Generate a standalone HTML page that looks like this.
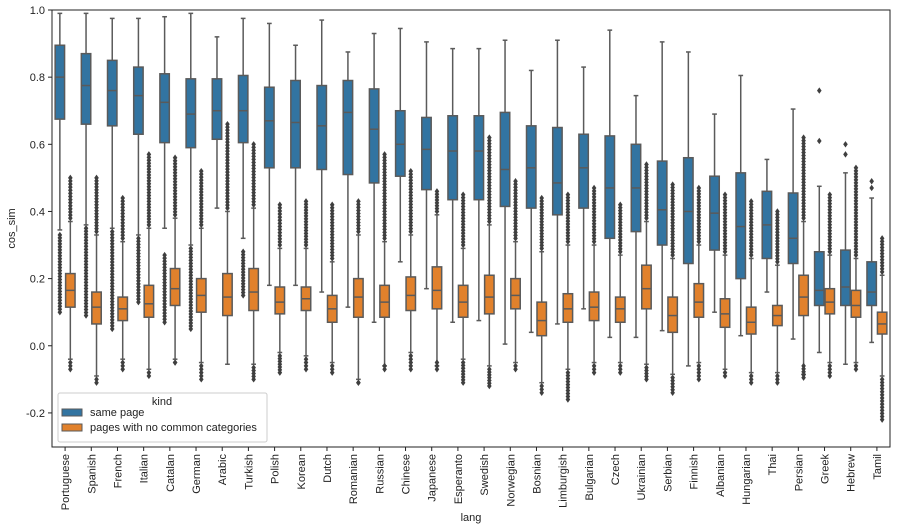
<!DOCTYPE html>
<html><head><meta charset="utf-8"><style>
body{margin:0;background:#fff;}
svg{display:block;font-family:"Liberation Sans",sans-serif;}
</style></head><body>
<svg id="chart" width="897" height="530"></svg>
<script>
const langs=["Portuguese","Spanish","French","Italian","Catalan","German","Arabic","Turkish","Polish","Korean","Dutch","Romanian","Russian","Chinese","Japanese","Esperanto","Swedish","Norwegian","Bosnian","Limburgish","Bulgarian","Czech","Ukrainian","Serbian","Finnish","Albanian","Hungarian","Thai","Persian","Greek","Hebrew","Tamil"];
const sameLo=[0.345,0.36,0.35,0.33,0.35,0.30,0.41,0.32,0.18,0.18,0.16,0.115,0.07,0.25,0.17,0.07,0.075,0.005,0.04,0.065,0.11,0.025,0.025,0.045,-0.06,0.10,0.03,0.16,0.02,-0.02,-0.055,0.01];
const sameQ1=[0.675,0.66,0.655,0.63,0.605,0.59,0.615,0.605,0.53,0.53,0.525,0.51,0.485,0.505,0.465,0.435,0.435,0.415,0.41,0.39,0.41,0.32,0.34,0.30,0.245,0.285,0.20,0.26,0.245,0.12,0.12,0.12];
const sameMed=[0.80,0.775,0.76,0.745,0.725,0.69,0.70,0.70,0.67,0.665,0.655,0.695,0.645,0.60,0.585,0.58,0.58,0.525,0.53,0.485,0.53,0.47,0.47,0.405,0.40,0.395,0.355,0.36,0.32,0.165,0.175,0.16];
const sameQ3=[0.895,0.87,0.85,0.83,0.81,0.795,0.795,0.805,0.77,0.79,0.775,0.79,0.765,0.70,0.68,0.685,0.685,0.695,0.655,0.65,0.63,0.625,0.60,0.55,0.56,0.505,0.515,0.46,0.455,0.28,0.285,0.25];
const sameHi=[0.99,0.99,0.975,0.975,0.98,0.99,0.92,0.975,0.96,0.895,0.97,0.875,0.93,0.945,0.905,0.885,0.885,0.91,0.82,0.91,0.83,0.94,0.745,0.905,0.875,0.69,0.805,0.555,0.705,0.475,0.515,0.44];
const sameFlierLow=[[0.33,0.10],[0.35,0.09],[0.34,0.05],[0.32,0.13],[0.27,0.07],[0.29,0.05],null,[0.28,0.15],null,null,null,null,null,null,null,null,null,null,null,null,null,null,null,null,null,null,null,null,null,null,null,null];
const sameFlierHigh=[null,null,null,null,null,null,null,null,null,null,null,null,null,null,null,null,null,null,null,null,null,null,null,null,null,null,null,null,null,[0.76,0.61],[0.6,0.57],[0.49,0.47]];
const noLo=[-0.04,-0.09,-0.04,-0.07,-0.04,-0.05,-0.055,-0.055,-0.02,-0.03,-0.05,-0.1,-0.06,-0.02,-0.06,-0.04,-0.06,-0.05,-0.11,-0.07,-0.05,-0.05,-0.055,-0.085,-0.05,-0.07,-0.08,-0.08,-0.085,-0.05,-0.05,-0.09];
const noQ1=[0.115,0.065,0.075,0.085,0.12,0.10,0.09,0.105,0.095,0.105,0.07,0.085,0.085,0.105,0.11,0.085,0.095,0.11,0.03,0.07,0.075,0.07,0.11,0.04,0.085,0.055,0.035,0.06,0.09,0.095,0.085,0.035];
const noMed=[0.165,0.115,0.11,0.125,0.17,0.15,0.145,0.16,0.13,0.14,0.11,0.145,0.13,0.15,0.165,0.13,0.145,0.15,0.075,0.11,0.115,0.11,0.17,0.09,0.13,0.095,0.07,0.09,0.145,0.13,0.12,0.065];
const noQ3=[0.215,0.16,0.145,0.18,0.23,0.20,0.215,0.23,0.175,0.175,0.15,0.20,0.18,0.205,0.235,0.18,0.21,0.20,0.13,0.155,0.16,0.145,0.24,0.145,0.185,0.14,0.115,0.12,0.21,0.17,0.165,0.10];
const noHi=[0.37,0.33,0.31,0.35,0.38,0.35,0.40,0.41,0.29,0.29,0.25,0.33,0.31,0.33,0.39,0.29,0.36,0.31,0.28,0.30,0.30,0.27,0.37,0.26,0.30,0.27,0.26,0.24,0.37,0.27,0.26,0.21];
const noFlierHigh=[0.50,0.50,0.44,0.57,0.56,0.52,0.66,0.60,0.42,0.43,0.42,0.43,0.57,0.52,0.46,0.45,0.62,0.49,0.44,0.45,0.47,0.42,0.54,0.48,0.47,0.45,0.43,0.40,0.62,0.45,0.53,0.32];
const noFlierLow=[-0.07,-0.11,-0.07,-0.09,-0.05,-0.10,null,-0.10,-0.08,-0.07,-0.08,-0.11,-0.06,-0.07,-0.05,-0.11,-0.12,-0.07,-0.14,-0.16,-0.08,-0.08,-0.10,-0.14,-0.10,-0.09,-0.11,-0.11,-0.06,-0.09,-0.07,-0.22];
const yTicks=[-0.2,0.0,0.2,0.4,0.6,0.8,1.0];

const L=52,T=10,R=890,B=447;
const yMin=-0.3015,yMax=1.0;
const y=v=>B-(v-yMin)/(yMax-yMin)*(B-T);
const cw=(R-L)/langs.length;
const xc=i=>L+cw*(i+0.5);
const svg=document.getElementById('chart');
const NS='http://www.w3.org/2000/svg';
function mk(tag,attrs,parent){const e=document.createElementNS(NS,tag);for(const k in attrs)e.setAttribute(k,attrs[k]);(parent||svg).appendChild(e);return e;}

const frame=mk('rect',{x:L,y:T,width:R-L,height:B-T,fill:'none',stroke:'#222','stroke-width':1});



yTicks.forEach(v=>{
  const t=mk('line',{x1:L-4,x2:L,y1:y(v),y2:y(v),stroke:'#222'});
  
  
  const tx=mk('text',{x:L-7,y:y(v)+4,'text-anchor':'end','font-size':11,fill:'#222'});
  tx.textContent=v.toFixed(1);
  
  
});

const blue='#3274a1',orange='#e1812c',edge='#3f3f3f',wh='#5a5a5a';
const slot=cw*0.8/2, bw=slot*0.9;
function diamond(cx,v,g){
  const cy=y(v);
  mk('path',{d:`M${cx} ${cy-3.2}L${cx+2.3} ${cy}L${cx} ${cy+3.2}L${cx-2.3} ${cy}Z`,fill:edge},g);
}
function fliers(cx,a,b,g){
  const hi=Math.max(a,b),lo=Math.min(a,b);
  const n=Math.max(1,Math.round((y(lo)-y(hi))/3));
  for(let k=0;k<=n;k++)diamond(cx,hi-(hi-lo)*k/n,g);
}
function box(cx,lo,q1,med,q3,hi,color,g){
  mk('line',{x1:cx,x2:cx,y1:y(hi),y2:y(q3),stroke:wh,'stroke-width':1.5},g);
  mk('line',{x1:cx,x2:cx,y1:y(q1),y2:y(lo),stroke:wh,'stroke-width':1.5},g);
  mk('line',{x1:cx-bw/4,x2:cx+bw/4,y1:y(hi),y2:y(hi),stroke:wh,'stroke-width':1.5},g);
  mk('line',{x1:cx-bw/4,x2:cx+bw/4,y1:y(lo),y2:y(lo),stroke:wh,'stroke-width':1.5},g);
  mk('rect',{x:cx-bw/2,y:y(q3),width:bw,height:y(q1)-y(q3),fill:color,stroke:wh,'stroke-width':1.5},g);
  mk('line',{x1:cx-bw/2,x2:cx+bw/2,y1:y(med),y2:y(med),stroke:wh,'stroke-width':1.5},g);
}
langs.forEach((lang,i)=>{
  const g=mk('g',{});
  
  
  const cb=xc(i)-slot/2, co=xc(i)+slot/2;
  box(cb,sameLo[i],sameQ1[i],sameMed[i],sameQ3[i],sameHi[i],blue,g);
  if(sameFlierLow[i])fliers(cb,sameFlierLow[i][0],sameFlierLow[i][1],g);
  if(sameFlierHigh[i]){diamond(cb,sameFlierHigh[i][0],g);diamond(cb,sameFlierHigh[i][1],g);}
  box(co,noLo[i],noQ1[i],noMed[i],noQ3[i],noHi[i],orange,g);
  fliers(co,noFlierHigh[i],noHi[i]+0.01,g);
  if(noFlierLow[i]!==null)fliers(co,noLo[i]-0.01,noFlierLow[i],g);
  const t=mk('line',{x1:xc(i),x2:xc(i),y1:B,y2:B+4,stroke:'#222'});
  
  
  const tx=mk('text',{x:0,y:0,'text-anchor':'end','font-size':11,fill:'#222',transform:`translate(${xc(i)+4},${B+7}) rotate(-90)`});
  tx.textContent=lang;
  
  
});

const yl=mk('text',{x:0,y:0,'text-anchor':'middle','font-size':11,fill:'#222',transform:`translate(15,${(T+B)/2}) rotate(-90)`});
yl.textContent='cos_sim';


const xl=mk('text',{x:(L+R)/2,y:521,'text-anchor':'middle','font-size':11,fill:'#222'});
xl.textContent='lang';



const lg=mk('g',{});


mk('rect',{x:58,y:393,width:209,height:49,fill:'#fff','fill-opacity':0.85,stroke:'#ccc',rx:2},lg);
const lt=mk('text',{x:162,y:405,'text-anchor':'middle','font-size':11,fill:'#222'},lg);
lt.textContent='kind';
[[blue,'same page',409],[orange,'pages with no common categories',424]].forEach(([c,s,yy])=>{
  const e=mk('g',{},lg);
  
  
  mk('rect',{x:62,y:yy,width:20,height:7,fill:c,stroke:wh},e);
  const t=mk('text',{x:90,y:yy+7,'font-size':11,fill:'#222'},e);
  t.textContent=s;
});
</script>
</body></html>
